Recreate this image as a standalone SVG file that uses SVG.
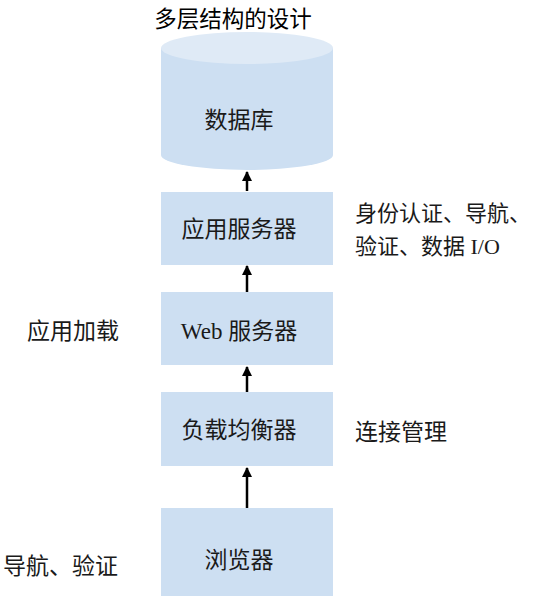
<svg xmlns="http://www.w3.org/2000/svg" width="537" height="597" viewBox="0 0 537 597">
<defs>
<style>
.box{fill:#cddff2;}
.top{fill:#dfeaf6;}
.t{font-family:"Liberation Serif","Noto Sans CJK SC",serif;font-size:23px;fill:#1a1a1a;}
.r{font-size:22px;}
.c{text-anchor:middle;}
.title{font-family:"Noto Sans CJK SC","Noto Sans",sans-serif;font-size:22.5px;fill:#000;text-anchor:middle;}
.a{stroke:#000;stroke-width:2.5;fill:none;marker-end:url(#ah);}
</style>
<marker id="ah" viewBox="0 0 10 10" refX="9" refY="5" markerWidth="4" markerHeight="4" orient="auto" markerUnits="strokeWidth">
<path d="M0,0 L10,5 L0,10 z" fill="#000"/>
</marker>
</defs>
<rect width="537" height="597" fill="#fff"/>
<text class="title" x="233" y="27">多层结构的设计</text>
<g id="db">
<path class="box" d="M161,48 L161,155 A86,15 0 0 0 333,155 L333,48 Z"/>
<ellipse class="top" cx="247" cy="48" rx="86" ry="16"/>
<text class="t c" x="239" y="128">数据库</text>
</g>
<g id="app">
<rect class="box" x="161" y="192" width="172" height="73"/>
<text class="t c" x="239" y="237">应用服务器</text>
</g>
<g id="web">
<rect class="box" x="161" y="292" width="172" height="73"/>
<text class="t c" x="239" y="339">Web 服务器</text>
</g>
<g id="lb">
<rect class="box" x="161" y="392" width="172" height="74"/>
<text class="t c" x="239" y="438">负载均衡器</text>
</g>
<g id="browser">
<rect class="box" x="161" y="508" width="172" height="88"/>
<text class="t c" x="239" y="568">浏览器</text>
</g>
<g id="labels">
<text class="t r" x="355" y="221">身份认证、导航、</text>
<text class="t r" x="355" y="254">验证、数据 I/O</text>
<text class="t" x="27" y="339">应用加载</text>
<text class="t" x="355" y="440">连接管理</text>
<text class="t" x="3" y="574">导航、验证</text>
</g>
<g id="connectors">
<line class="a" x1="247" y1="191" x2="247" y2="172"/>
<line class="a" x1="247" y1="292" x2="247" y2="266"/>
<line class="a" x1="247" y1="392" x2="247" y2="367"/>
<line class="a" x1="247" y1="508" x2="247" y2="468"/>
</g>
</svg>
